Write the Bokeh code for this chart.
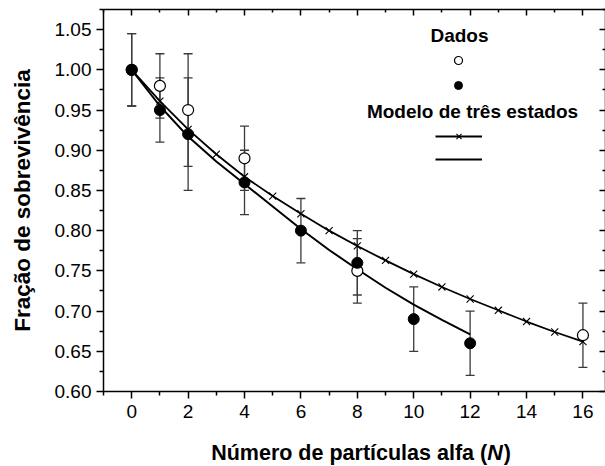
from bokeh.plotting import figure
from bokeh.layouts import column
from bokeh.models import (ColumnDataSource, Whisker, TeeHead, LinearAxis, FixedTicker,
                          NumeralTickFormatter, Legend, LegendItem, Label, Range1d)
from bokeh.embed import file_html
from bokeh.resources import INLINE

# ---------------- data ----------------
n_open = [0, 1, 2, 4, 8, 16]
surv_open = [1.00, 0.98, 0.95, 0.89, 0.75, 0.67]
err_open = [0.045, 0.04, 0.07, 0.04, 0.04, 0.04]

n_filled = [0, 1, 2, 4, 6, 8, 10, 12]
surv_filled = [1.00, 0.95, 0.92, 0.86, 0.80, 0.76, 0.69, 0.66]
err_filled = [0.045, 0.04, 0.07, 0.04, 0.04, 0.04, 0.04, 0.04]

n_model_x = list(range(0, 17))
surv_model_x = [1.000, 0.961, 0.926, 0.895, 0.867, 0.843, 0.821, 0.800, 0.781,
                0.763, 0.746, 0.730, 0.715, 0.701, 0.687, 0.674, 0.662]

n_model = list(range(0, 13))
surv_model = [1.000, 0.955, 0.917, 0.886, 0.858, 0.830, 0.802, 0.776, 0.752,
              0.729, 0.708, 0.689, 0.671]

x_major = [0, 2, 4, 6, 8, 10, 12, 14, 16]
x_minor = [-1, 1, 3, 5, 7, 9, 11, 13, 15]
y_major = [0.60, 0.65, 0.70, 0.75, 0.80, 0.85, 0.90, 0.95, 1.00, 1.05]
y_minor = [0.625, 0.675, 0.725, 0.775, 0.825, 0.875, 0.925, 0.975, 1.025, 1.075]

title_dados = "Dados"
title_modelo = "Modelo de três estados"
xlabel_main = "Número de partículas alfa ("
xlabel_var = "N"
xlabel_end = ")"
ylabel = "Fração de sobrevivência"

FONT = "Liberation Sans"
FRAME_LEFT = 103

# ---------------- main figure ----------------
p = figure(width=605, height=430, x_range=(-1, 16.8), y_range=(0.60, 1.075),
           output_backend="svg", toolbar_location=None,
           min_border_left=FRAME_LEFT, min_border_right=0, min_border_top=9, min_border_bottom=39)
p.outline_line_color = None
p.grid.visible = False
p.background_fill_color = "white"
p.border_fill_color = "white"

xt = FixedTicker(ticks=x_major, minor_ticks=x_minor)
yt = FixedTicker(ticks=y_major, minor_ticks=y_minor)

def style_axis(ax, inward):
    ax.axis_line_width = 1.5
    ax.axis_line_color = "black"
    ax.major_tick_line_width = 1.5
    ax.minor_tick_line_width = 1.5
    ax.major_tick_line_color = "black"
    ax.minor_tick_line_color = "black"
    if inward:
        ax.major_tick_in = 6
        ax.major_tick_out = 0
        ax.minor_tick_in = 3
        ax.minor_tick_out = 0
        ax.major_label_text_font_size = "0px"
        ax.major_label_text_color = None
        ax.major_label_standoff = 0
    else:
        ax.major_tick_in = 0
        ax.major_tick_out = 7
        ax.minor_tick_in = 0
        ax.minor_tick_out = 4
        ax.major_label_text_font = FONT
        ax.major_label_text_font_size = "19px"
        ax.major_label_text_color = "black"

xa = p.xaxis[0]
xa.ticker = xt
style_axis(xa, False)
xa.major_label_standoff = 6

ya = p.yaxis[0]
ya.ticker = yt
ya.formatter = NumeralTickFormatter(format="0.00")
style_axis(ya, False)
ya.major_label_standoff = 5
ya.axis_label = ylabel
ya.axis_label_text_font = FONT
ya.axis_label_text_font_style = "bold"
ya.axis_label_text_font_size = "22.5px"
ya.axis_label_text_color = "black"
ya.axis_label_standoff = 17

top = LinearAxis(ticker=xt)
style_axis(top, True)
p.add_layout(top, "above")
right = LinearAxis(ticker=yt)
style_axis(right, True)
p.add_layout(right, "right")

# ---------------- error bars ----------------
src_open = ColumnDataSource(dict(x=n_open, y=surv_open,
                                 lo=[v - e for v, e in zip(surv_open, err_open)],
                                 hi=[v + e for v, e in zip(surv_open, err_open)]))
src_filled = ColumnDataSource(dict(x=n_filled, y=surv_filled,
                                   lo=[v - e for v, e in zip(surv_filled, err_filled)],
                                   hi=[v + e for v, e in zip(surv_filled, err_filled)]))
for s in (src_open, src_filled):
    w = Whisker(source=s, base="x", lower="lo", upper="hi", line_color="#3a3a3a", line_width=1.3,
                upper_head=TeeHead(size=9, line_color="#3a3a3a", line_width=1.3),
                lower_head=TeeHead(size=9, line_color="#3a3a3a", line_width=1.3))
    p.add_layout(w)

# ---------------- model curves ----------------
r_model = p.line(n_model, surv_model, line_color="black", line_width=2)
r_mx_line = p.line(n_model_x, surv_model_x, line_color="black", line_width=1.8)
r_mx_pts = p.scatter(n_model_x, surv_model_x, marker="x", size=10, line_color="black", line_width=1.1)

# ---------------- data points ----------------
r_open = p.scatter("x", "y", source=src_open, marker="circle", size=11,
                   fill_color="white", line_color="black", line_width=1.2)
r_filled = p.scatter("x", "y", source=src_filled, marker="circle", size=11,
                     fill_color="black", line_color="black")

# ---------------- legend ----------------
def bare_legend(items, loc, gw, gh, spacing):
    return Legend(items=items, location=loc, orientation="vertical",
                  glyph_width=gw, glyph_height=gh, spacing=spacing,
                  label_text_font_size="1px", label_standoff=0, label_width=0, label_height=gh,
                  padding=0, margin=0, border_line_color=None, background_fill_alpha=0)

lg1 = bare_legend([LegendItem(label=" ", renderers=[r_open]),
                   LegendItem(label=" ", renderers=[r_filled])],
                  (345, 296), 20, 20, 5)
lg2 = bare_legend([LegendItem(label=" ", renderers=[r_mx_line, r_mx_pts]),
                   LegendItem(label=" ", renderers=[r_model])],
                  (332, 223), 47, 18, 5)
p.add_layout(lg1)
p.add_layout(lg2)

for txt, xx, yy in ((title_dados, 356, 356), (title_modelo, 369, 280)):
    p.add_layout(Label(x=xx, y=yy, x_units="screen", y_units="screen", text=txt,
                       text_font=FONT, text_font_style="bold", text_font_size="19px",
                       text_align="center", text_baseline="middle", text_color="black"))

# ---------------- x-axis title strip (mixed bold / bold italic) ----------------
q = figure(width=605, height=36, x_range=Range1d(0, 605), y_range=Range1d(0, 36),
           output_backend="svg", toolbar_location=None, x_axis_type=None, y_axis_type=None,
           min_border=0, min_border_left=0, min_border_right=0, min_border_top=0, min_border_bottom=0)
q.outline_line_color = None
q.grid.visible = False
q.background_fill_color = "white"
q.border_fill_color = "white"

fs = 21.5
main_w = 12837 * fs / 1000.0      # Arial-bold advance widths
n_w = 722 * fs / 1000.0
par_w = 333 * fs / 1000.0
total_w = main_w + n_w + par_w
x0 = 360 - total_w / 2 - FRAME_LEFT   # frame of strip is aligned with main frame
ylab = 36 - (452 - 430)
for txt, xx, style in ((xlabel_main, x0, "bold"),
                       (xlabel_var, x0 + main_w, "bold italic"),
                       (xlabel_end, x0 + main_w + n_w + 1, "bold")):
    q.add_layout(Label(x=xx, y=ylab, x_units="screen", y_units="screen", text=txt,
                       text_font=FONT, text_font_style=style, text_font_size=f"{fs}px",
                       text_align="left", text_baseline="middle", text_color="black"))

layout = column(p, q, spacing=0)
open("out.html", "w").write(file_html(layout, INLINE))
